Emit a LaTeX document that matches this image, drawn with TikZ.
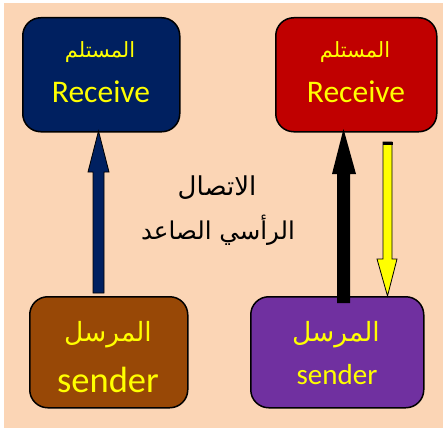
\documentclass[tikz,border=0pt]{standalone}
\usepackage{fontspec}
\setmainfont{Carlito}
\newfontfamily\arabicfont[Script=Arabic]{DejaVu Sans}
\TeXXeTstate=1
\definecolor{bgpeach}{HTML}{FBD5B5}
\definecolor{navy}{HTML}{002060}
\definecolor{darkred}{HTML}{C00000}
\definecolor{brownbox}{HTML}{984806}
\definecolor{purplebox}{HTML}{7030A0}
\definecolor{yel}{HTML}{FFFF00}
\begin{document}
\begin{tikzpicture}[x=1pt,y=-1pt,
  box/.style={draw=black,line width=1.5pt,rounded corners=18pt,inner sep=0pt,anchor=north west},
  ytext/.style={text=yel,inner sep=0pt},
  blockarrow/.style={draw=black,line width=0.8pt,line join=miter}]
\useasboundingbox (0,0) rectangle (443,428);
\fill[white] (0,0) rectangle (443,428);
\fill[bgpeach] (4,3) rectangle (443,428);
% boxes
\node[box,fill=navy,minimum width=157pt,minimum height=114pt] (tl) at (22,17) {};
\node[box,fill=darkred,minimum width=161pt,minimum height=114pt] (tr) at (275,17) {};
\node[box,fill=brownbox,minimum width=158pt,minimum height=111pt] (bl) at (29,296) {};
\node[box,fill=purplebox,minimum width=173pt,minimum height=111pt] (br) at (250,296) {};
% texts
\node[ytext,font=\arabicfont\fontsize{21}{25}\selectfont] (tla) at (100,52) {\beginR المستلم\endR};
\node[ytext,font=\fontsize{31.5}{36}\selectfont] (tle) at (101,92) {Receive};
\node[ytext,font=\arabicfont\fontsize{21}{25}\selectfont] (tra) at (355,52) {\beginR المستلم\endR};
\node[ytext,font=\fontsize{31.5}{36}\selectfont] (tre) at (356,92) {Receive};
\node[ytext,font=\arabicfont\fontsize{26.5}{31}\selectfont] (bla) at (108,335) {\beginR المرسل\endR};
\node[ytext,font=\fontsize{36.5}{42}\selectfont] (ble) at (108,380) {sender};
\node[ytext,font=\arabicfont\fontsize{26.5}{31}\selectfont] (bra) at (336,335) {\beginR المرسل\endR};
\node[ytext,font=\fontsize{29}{34}\selectfont] (bre) at (337,375) {sender};
\node[inner sep=0pt,font=\arabicfont\fontsize{26}{30}\selectfont] (m1) at (217,188) {\beginR الاتصال\endR};
\node[inner sep=0pt,font=\arabicfont\fontsize{24.5}{29}\selectfont] (m2) at (218,230) {\beginR الرأسي الصاعد\endR};
% blue arrow (sender -> receive, left)
\draw[blockarrow,fill=navy] (93,293) -- (93,172) -- (88,172) -- (98.5,131) -- (109,172) -- (104,172) -- (104,293) -- cycle;
% black arrow (right, up)
\fill[black] (337,303) -- (337,174) -- (332,174) -- (343.5,129) -- (356,174) -- (350,174) -- (350,303) -- cycle;
% yellow arrow (right, down)
\draw[blockarrow,fill=yel] (383,142) -- (383,259) -- (377,259) -- (387.5,296) -- (397,259) -- (392,259) -- (392,142) -- cycle;
\draw[line width=3pt] (382.5,143) -- (392.5,143);
\end{tikzpicture}
\end{document}
